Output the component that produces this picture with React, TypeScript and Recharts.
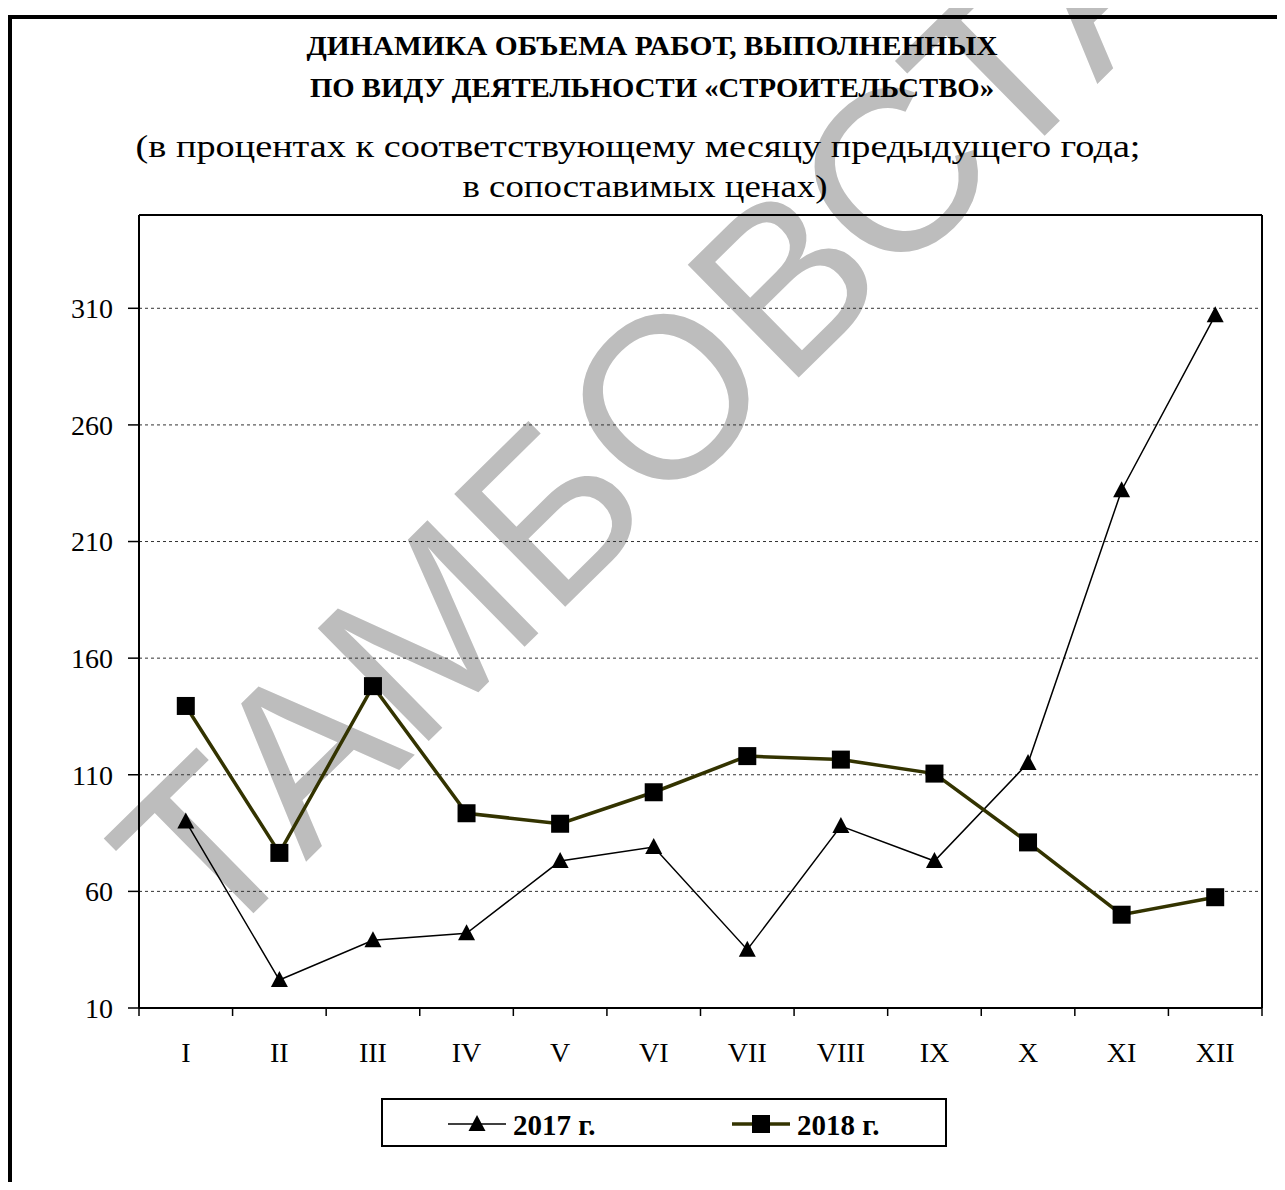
import React from 'react';
import {
  LineChart,
  Line,
  XAxis,
  YAxis,
  CartesianGrid,
  ReferenceLine,
  Legend,
} from 'recharts';

const months = ['I', 'II', 'III', 'IV', 'V', 'VI', 'VII', 'VIII', 'IX', 'X', 'XI', 'XII'];
const values2017 = [90, 22, 39, 42, 73, 79, 35, 88, 73, 115, 232, 307];
const values2018 = [139.5, 76.5, 148, 93.5, 89, 102.5, 118, 116.5, 110.5, 81, 50, 57.5];
const yTicks = [10, 60, 110, 160, 210, 260, 310];
const yDomain = [10, 350];
const seriesNames = ['2017 г.', '2018 г.'];
const titleLines = [
  'ДИНАМИКА ОБЪЕМА РАБОТ, ВЫПОЛНЕННЫХ',
  'ПО ВИДУ ДЕЯТЕЛЬНОСТИ «СТРОИТЕЛЬСТВО»',
];
const subtitleLines = [
  '(в процентах к соответствующему месяцу предыдущего года;',
  'в сопоставимых ценах)',
];
const watermark = 'ТАМБОВСТАТ';

const data = months.map((m, i) => ({
  pos: i + 0.5,
  month: m,
  y2017: values2017[i],
  y2018: values2018[i],
}));
const xTicks = months.map((_, i) => i).concat([months.length]);

const W = 1277;
const H = 1174;
const Y_AXIS_W = 60;
const X_AXIS_H = 60;
const M = { top: 207, right: 23, bottom: 174 - X_AXIS_H, left: 131 - Y_AXIS_W };
const PLOT_W = W - 131 - 23;
const HALF_BAND = PLOT_W / (2 * months.length);
const SERIF = '"Liberation Serif", "Times New Roman", serif';
const LINE18 = '#333300';

const Triangle = (props: any) => {
  const { cx, cy } = props;
  if (cx == null || cy == null) return null;
  return (
    <polygon
      points={`${cx},${cy - 9} ${cx - 8.5},${cy + 7} ${cx + 8.5},${cy + 7}`}
      fill="#000"
      stroke="none"
    />
  );
};

const Square = (props: any) => {
  const { cx, cy } = props;
  if (cx == null || cy == null) return null;
  return <rect x={cx - 9} y={cy - 9} width={18} height={18} fill="#000" />;
};

const XTick = (props: any) => {
  const { x, y, payload } = props;
  const idx = payload.value;
  if (idx >= months.length) return null;
  return (
    <text
      x={x + HALF_BAND}
      y={y + 44}
      textAnchor="middle"
      fontFamily={SERIF}
      fontSize={28}
      fill="#000"
    >
      {months[idx]}
    </text>
  );
};

const LegendContent = (props: any) => {
  const payload = props.payload || [];
  return (
    <svg width={566} height={49} style={{ display: 'block' }}>
      <rect x={1} y={1} width={564} height={47} fill="#fff" stroke="#000" strokeWidth={2} />
      {payload.map((p: any, i: number) => {
        const x0 = 67 + i * 284;
        const cx = x0 + 29;
        return (
          <g key={i}>
            <line
              x1={x0}
              x2={x0 + 58}
              y1={26}
              y2={26}
              stroke={i === 0 ? '#000' : LINE18}
              strokeWidth={i === 0 ? 1.5 : 3.5}
            />
            {i === 0 ? (
              <polygon points={`${cx},${17} ${cx - 8.5},${33} ${cx + 8.5},${33}`} fill="#000" />
            ) : (
              <rect x={cx - 9} y={17} width={18} height={18} fill="#000" />
            )}
            <text
              x={x0 + 65}
              y={37}
              fontFamily={SERIF}
              fontWeight="bold"
              fontSize={29}
              fill="#000"
            >
              {p.value}
            </text>
          </g>
        );
      })}
    </svg>
  );
};

export default function App() {
  return (
    <div style={{ position: 'relative', width: W, height: H, overflow: 'hidden', background: '#fff' }}>
      <svg width={W} height={H} style={{ position: 'absolute', left: 0, top: 0 }}>
        <text
          x={203}
          y={947}
          transform="rotate(-44.5 203 947)"
          fontFamily='"Liberation Sans", Arial, sans-serif'
          fontSize={230}
          fill="#bdbdbd"
        >
          {watermark}
        </text>
      </svg>
      <div
        style={{
          position: 'absolute',
          left: 0,
          top: 7,
          width: W + 20,
          height: H + 20,
          borderLeft: '4px solid #000',
          borderTop: '4px solid #000',
          boxSizing: 'border-box',
        }}
      />
      <svg width={W} height={200} style={{ position: 'absolute', left: 0, top: 0 }}>
        <text
          x={644}
          y={47}
          textAnchor="middle"
          fontFamily={SERIF}
          fontWeight="bold"
          fontSize={27}
          textLength={691}
          lengthAdjust="spacingAndGlyphs"
        >
          {titleLines[0]}
        </text>
        <text
          x={644}
          y={89}
          textAnchor="middle"
          fontFamily={SERIF}
          fontWeight="bold"
          fontSize={27}
          textLength={684}
          lengthAdjust="spacingAndGlyphs"
        >
          {titleLines[1]}
        </text>
        <text
          x={630}
          y={149}
          textAnchor="middle"
          fontFamily={SERIF}
          fontSize={32}
          textLength={1005}
          lengthAdjust="spacingAndGlyphs"
        >
          {subtitleLines[0]}
        </text>
        <text
          x={637}
          y={189}
          textAnchor="middle"
          fontFamily={SERIF}
          fontSize={32}
          textLength={365}
          lengthAdjust="spacingAndGlyphs"
        >
          {subtitleLines[1]}
        </text>
      </svg>
      <div style={{ position: 'absolute', left: 0, top: 0 }}>
        <LineChart width={W} height={H} data={data} margin={M}>
          <CartesianGrid
            horizontal={true}
            vertical={false}
            stroke="#333"
            strokeDasharray="3 3"
            strokeWidth={1}
          />
          <XAxis
            dataKey="pos"
            type="number"
            domain={[0, months.length]}
            ticks={xTicks}
            interval={0}
            height={X_AXIS_H}
            axisLine={{ stroke: '#000', strokeWidth: 2 }}
            tickLine={{ stroke: '#000', strokeWidth: 1.5 }}
            tickSize={8}
            tickMargin={2}
            tick={<XTick />}
          />
          <YAxis
            type="number"
            domain={yDomain}
            ticks={yTicks}
            interval={0}
            width={Y_AXIS_W}
            allowDataOverflow={true}
            axisLine={{ stroke: '#000', strokeWidth: 2 }}
            tickLine={{ stroke: '#000', strokeWidth: 1.5 }}
            tickSize={11}
            tickMargin={15}
            tick={{ fontFamily: SERIF, fontSize: 28, fill: '#000' }}
          />
          <ReferenceLine y={yDomain[1]} stroke="#000" strokeWidth={2} />
          <ReferenceLine x={months.length} stroke="#000" strokeWidth={2} />
          <Legend
            layout="horizontal"
            verticalAlign="middle"
            align="center"
            wrapperStyle={{ position: 'absolute', left: 373, top: 1090, width: 566, height: 49 }}
            content={<LegendContent />}
          />
          <Line
            type="linear"
            dataKey="y2017"
            name={seriesNames[0]}
            stroke="#000"
            strokeWidth={1.5}
            dot={<Triangle />}
            activeDot={false}
            isAnimationActive={false}
          />
          <Line
            type="linear"
            dataKey="y2018"
            name={seriesNames[1]}
            stroke={LINE18}
            strokeWidth={3.5}
            dot={<Square />}
            activeDot={false}
            isAnimationActive={false}
          />
        </LineChart>
      </div>
    </div>
  );
}
